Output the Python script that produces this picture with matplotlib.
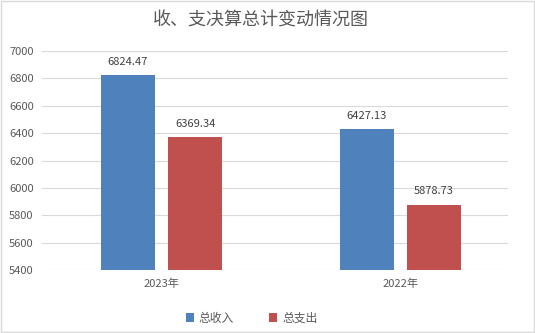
import matplotlib.pyplot as plt
import numpy as np

plt.rcParams['font.family'] = ['Noto Sans CJK SC', 'DejaVu Sans']

years = ['2023年', '2022年']
income = [6824.47, 6427.13]
expense = [6369.34, 5878.73]
series_names = ['总收入', '总支出']
colors = ['#4f81bd', '#c0504d']
text_gray = '#595959'

fig = plt.figure(figsize=(5.35, 3.33), dpi=100)
fig.patch.set_facecolor('white')
fig.patches.append(plt.Rectangle((0.002, 0.003), 0.996, 0.994, transform=fig.transFigure,
                                 fill=False, edgecolor='#d9d9d9', linewidth=1))
ax = fig.add_axes([0.0785, 0.189, 0.871, 0.658])

x = np.arange(len(years))
w = 0.226
b1 = ax.bar(x - 0.141, income, w, color=colors[0], label=series_names[0], zorder=3)
b2 = ax.bar(x + 0.141, expense, w, color=colors[1], label=series_names[1], zorder=3)

for bars in (b1, b2):
    for rect in bars:
        h = rect.get_height()
        ax.text(rect.get_x() + rect.get_width() / 2, h + 60, f'{h:.2f}',
                ha='center', va='bottom', fontsize=8, color='#404040')

ax.set_ylim(5400, 7000)
ax.set_yticks(range(5400, 7001, 200))
ax.set_xlim(-0.5, 1.45)
ax.set_xticks(x)
ax.set_xticklabels(years)
ax.grid(axis='y', color='#d9d9d9', linewidth=0.8, zorder=0)
for s in ax.spines.values():
    s.set_visible(False)
ax.tick_params(axis='both', length=0, labelsize=8, colors=text_gray)
ax.tick_params(axis='y', pad=6)
ax.tick_params(axis='x', pad=6)

fig.suptitle('收、支决算总计变动情况图', x=0.487, y=0.965, fontsize=13, color=text_gray)
fig.legend(loc='center', bbox_to_anchor=(0.47, 0.045), ncol=2, frameon=False,
           fontsize=8.5, handlelength=0.7, handleheight=0.7, columnspacing=3,
           handletextpad=0.4, labelcolor=text_gray)

fig.savefig('out.png', dpi=100)
